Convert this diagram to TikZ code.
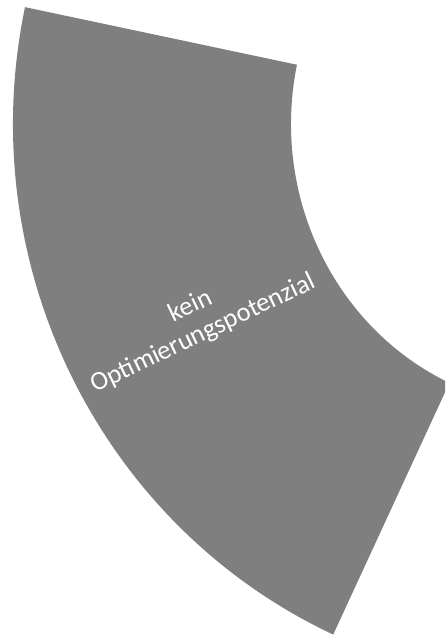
\documentclass[tikz,border=0pt]{standalone}
\usepackage{fontspec}
\setmainfont{Carlito}
\usetikzlibrary{calc}
\definecolor{sectorgray}{RGB}{127,127,127}
\tikzset{
  sector/.style={fill=sectorgray, draw=none},
  sectorlabel/.style={text=white, align=center, rotate=25.5, inner sep=0pt,
    font=\fontsize{26.5}{30}\selectfont}
}
\begin{document}
\begin{tikzpicture}[x=1pt,y=1pt]
\useasboundingbox (0,0) rectangle (445,636);
\clip (0,0) rectangle (445,636);
\coordinate (c) at (563,512);
\fill[sector] ($(c)+(168:550 and 562)$)
  arc[start angle=168, end angle=245.3, x radius=550, y radius=562]
  -- ($(c)+(245.3:272 and 285)$)
  arc[start angle=245.3, end angle=168, x radius=272, y radius=285]
  -- cycle;
\node[sectorlabel] (lbl) at (197,316) {kein\\Optimierungspotenzial};
\end{tikzpicture}
\end{document}
